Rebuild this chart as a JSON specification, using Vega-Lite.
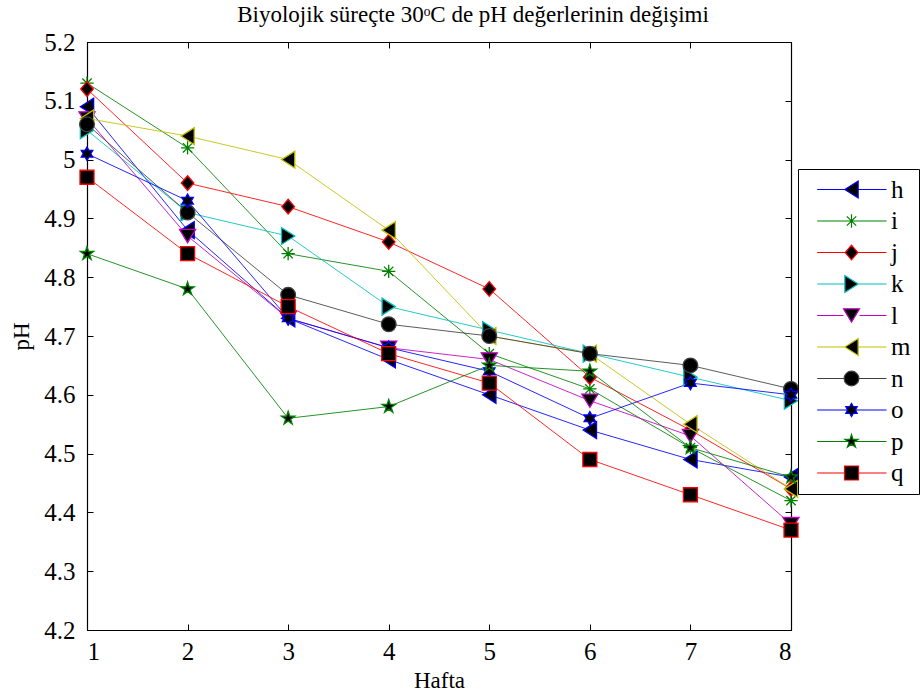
{
  "$schema": "https://vega.github.io/schema/vega-lite/v6.json",
  "width": 704,
  "height": 588,
  "autosize": "none",
  "padding": {"left": 87, "top": 42, "right": 129, "bottom": 70},
  "background": "white",
  "title": {"text": "Biyolojik süreçte 30ᵒC de pH değerlerinin değişimi", "font": "Liberation Serif, Times New Roman, serif", "fontSize": 23, "fontWeight": "normal", "color": "black", "offset": 3, "dx": 34},
  "config": {
    "font": "Liberation Serif, Times New Roman, serif",
    "view": {"stroke": "black", "strokeWidth": 1},
    "axis": {"grid": false, "domainColor": "black", "domainWidth": 1.2, "tickColor": "black", "tickSize": -6, "labelFont": "Liberation Serif, Times New Roman, serif", "labelFontSize": 25, "labelColor": "black", "titleFont": "Liberation Serif, Times New Roman, serif", "titleFontSize": 23, "titleFontWeight": "normal", "titleColor": "black"},
    "legend": {"labelFont": "Liberation Serif, Times New Roman, serif", "labelFontSize": 25, "labelColor": "black"}
  },
  "data": {"values": [
    {"s":"h","x":1,"y":5.09},{"s":"h","x":2,"y":4.88},{"s":"h","x":3,"y":4.73},{"s":"h","x":4,"y":4.66},{"s":"h","x":5,"y":4.60},{"s":"h","x":6,"y":4.54},{"s":"h","x":7,"y":4.49},{"s":"h","x":8,"y":4.46},
    {"s":"i","x":1,"y":5.13},{"s":"i","x":2,"y":5.02},{"s":"i","x":3,"y":4.84},{"s":"i","x":4,"y":4.81},{"s":"i","x":5,"y":4.67},{"s":"i","x":6,"y":4.61},{"s":"i","x":7,"y":4.51},{"s":"i","x":8,"y":4.42},
    {"s":"j","x":1,"y":5.12},{"s":"j","x":2,"y":4.96},{"s":"j","x":3,"y":4.92},{"s":"j","x":4,"y":4.86},{"s":"j","x":5,"y":4.78},{"s":"j","x":6,"y":4.63},{"s":"j","x":7,"y":4.54},{"s":"j","x":8,"y":4.44},
    {"s":"k","x":1,"y":5.05},{"s":"k","x":2,"y":4.91},{"s":"k","x":3,"y":4.87},{"s":"k","x":4,"y":4.75},{"s":"k","x":5,"y":4.71},{"s":"k","x":6,"y":4.67},{"s":"k","x":7,"y":4.63},{"s":"k","x":8,"y":4.59},
    {"s":"l","x":1,"y":5.07},{"s":"l","x":2,"y":4.87},{"s":"l","x":3,"y":4.73},{"s":"l","x":4,"y":4.68},{"s":"l","x":5,"y":4.66},{"s":"l","x":6,"y":4.59},{"s":"l","x":7,"y":4.53},{"s":"l","x":8,"y":4.38},
    {"s":"m","x":1,"y":5.07},{"s":"m","x":2,"y":5.04},{"s":"m","x":3,"y":5.00},{"s":"m","x":4,"y":4.88},{"s":"m","x":5,"y":4.70},{"s":"m","x":6,"y":4.67},{"s":"m","x":7,"y":4.55},{"s":"m","x":8,"y":4.44},
    {"s":"n","x":1,"y":5.06},{"s":"n","x":2,"y":4.91},{"s":"n","x":3,"y":4.77},{"s":"n","x":4,"y":4.72},{"s":"n","x":5,"y":4.70},{"s":"n","x":6,"y":4.67},{"s":"n","x":7,"y":4.65},{"s":"n","x":8,"y":4.61},
    {"s":"o","x":1,"y":5.01},{"s":"o","x":2,"y":4.93},{"s":"o","x":3,"y":4.73},{"s":"o","x":4,"y":4.68},{"s":"o","x":5,"y":4.64},{"s":"o","x":6,"y":4.56},{"s":"o","x":7,"y":4.62},{"s":"o","x":8,"y":4.60},
    {"s":"p","x":1,"y":4.84},{"s":"p","x":2,"y":4.78},{"s":"p","x":3,"y":4.56},{"s":"p","x":4,"y":4.58},{"s":"p","x":5,"y":4.65},{"s":"p","x":6,"y":4.64},{"s":"p","x":7,"y":4.51},{"s":"p","x":8,"y":4.46},
    {"s":"q","x":1,"y":4.97},{"s":"q","x":2,"y":4.84},{"s":"q","x":3,"y":4.75},{"s":"q","x":4,"y":4.67},{"s":"q","x":5,"y":4.62},{"s":"q","x":6,"y":4.49},{"s":"q","x":7,"y":4.43},{"s":"q","x":8,"y":4.37}
  ]},
  "resolve": {"scale": {"shape": "independent", "stroke": "independent"}, "axis": {"x": "independent", "y": "independent"}},
  "layer": [
    {
      "mark": {"type": "line", "strokeWidth": 1, "opacity": 0.85},
      "encoding": {
        "x": {"field": "x", "type": "quantitative", "scale": {"domain": [1, 8], "nice": false, "zero": false}, "axis": null},
        "y": {"field": "y", "type": "quantitative", "scale": {"domain": [4.2, 5.2], "nice": false, "zero": false}, "axis": null},
        "stroke": {"field": "s", "type": "nominal", "legend": null, "scale": {"domain": ["h","i","j","k","l","m","n","o","p","q"], "range": ["#0000ff","#008000","#ff0000","#00bfbf","#bf00bf","#bfbf00","#404040","#0000ff","#008000","#ff0000"]}},
        "order": {"field": "x"}
      }
    },
    {
      "mark": {"type": "point", "filled": true, "fill": "black", "size": 196, "strokeWidth": 1.3, "opacity": 1},
      "encoding": {
        "x": {"field": "x", "type": "quantitative", "axis": {"values": [1,2,3,4,5,6,7,8], "format": "d", "title": "Hafta", "labelPadding": 15, "titlePadding": 5, "labelFontSize": 25}},
        "y": {"field": "y", "type": "quantitative", "axis": {"values": [4.2,4.3,4.4,4.5,4.6,4.7,4.8,4.9,5.0,5.1,5.2], "format": "~g", "title": "pH", "labelPadding": 18, "titlePadding": 10, "labelFontSize": 25}},
        "shape": {"field": "s", "type": "nominal", "legend": null, "scale": {"domain": ["h","i","j","k","l","m","n","o","p","q"], "range": [
          "M-0.95,0L0.95,-1.2L0.95,1.2Z",
          "M-0.95,0H0.95M0,-0.95V0.95M-0.67,-0.67L0.67,0.67M-0.67,0.67L0.67,-0.67",
          "M0,-1.05L0.9,0L0,1.05L-0.9,0Z",
          "M0.95,0L-0.95,-1.2L-0.95,1.2Z",
          "M-1.15,-0.95L1.15,-0.95L0,0.95Z",
          "M-0.95,0L0.95,-1.2L0.95,1.2Z",
          "M1.05,0A1.05,1.05,0,1,1,-1.05,0A1.05,1.05,0,1,1,1.05,0Z",
          "M0,-0.95L0.274,-0.475L0.823,-0.475L0.548,0L0.823,0.475L0.274,0.475L0,0.95L-0.274,0.475L-0.823,0.475L-0.548,0L-0.823,-0.475L-0.274,-0.475Z",
          "M0,-1L0.225,-0.309L0.951,-0.309L0.363,0.118L0.588,0.809L0,0.382L-0.588,0.809L-0.363,0.118L-0.951,-0.309L-0.225,-0.309Z",
          "M-1,-1H1V1H-1Z"
        ]}},
        "stroke": {"field": "s", "type": "nominal", "legend": null, "scale": {"domain": ["h","i","j","k","l","m","n","o","p","q"], "range": ["#0000ff","#008000","#ff0000","#00bfbf","#bf00bf","#bfbf00","#404040","#0000ff","#008000","#ff0000"]}}
      }
    },
    {
      "transform": [{"filter": "datum.x > 100"}],
      "mark": {"type": "point", "filled": true, "fill": "black", "size": 196, "strokeWidth": 1.2, "opacity": 1},
      "encoding": {
        "x": {"field": "x", "type": "quantitative", "axis": {"orient": "top", "values": [1,2,3,4,5,6,7,8], "labels": false, "title": null, "domain": true}},
        "y": {"field": "y", "type": "quantitative", "axis": {"orient": "right", "values": [4.2,4.3,4.4,4.5,4.6,4.7,4.8,4.9,5.0,5.1,5.2], "labels": false, "title": null, "domain": true}},
        "shape": {"field": "s", "type": "nominal", "scale": {"domain": ["h","i","j","k","l","m","n","o","p","q"], "range": [
          "M-4.9,0H-0.95M0.95,0H5M-0.95,0L0.95,-1.2L0.95,1.2Z",
          "M-4.9,0H5M0,-0.95V0.95M-0.67,-0.67L0.67,0.67M-0.67,0.67L0.67,-0.67",
          "M-4.9,0H-0.9M0.9,0H5M0,-1.05L0.9,0L0,1.05L-0.9,0Z",
          "M-4.9,0H-0.95M0.95,0H5M0.95,0L-0.95,-1.2L-0.95,1.2Z",
          "M-4.9,0H-1.15M1.15,0H5M-1.15,-0.95L1.15,-0.95L0,0.95Z",
          "M-4.9,0H-0.95M0.95,0H5M-0.95,0L0.95,-1.2L0.95,1.2Z",
          "M-4.9,0H-1.05M1.05,0H5M1.05,0A1.05,1.05,0,1,1,-1.05,0A1.05,1.05,0,1,1,1.05,0Z",
          "M-4.9,0H-0.55M0.55,0H5M0,-0.95L0.274,-0.475L0.823,-0.475L0.548,0L0.823,0.475L0.274,0.475L0,0.95L-0.274,0.475L-0.823,0.475L-0.548,0L-0.823,-0.475L-0.274,-0.475Z",
          "M-4.9,0H-0.6M0.6,0H5M0,-1L0.225,-0.309L0.951,-0.309L0.363,0.118L0.588,0.809L0,0.382L-0.588,0.809L-0.363,0.118L-0.951,-0.309L-0.225,-0.309Z",
          "M-4.9,0H-1M1,0H5M-1,-1H1V1H-1Z"
        ]}, "legend": {"orient": "none", "legendX": 711, "legendY": 127, "title": null, "strokeColor": "black", "fillColor": "white", "padding": 8, "rowPadding": 5.5, "symbolOffset": 33, "labelOffset": 27, "symbolSize": 196, "symbolStrokeWidth": 1.2, "symbolFillColor": "black"}},
        "stroke": {"field": "s", "type": "nominal", "scale": {"domain": ["h","i","j","k","l","m","n","o","p","q"], "range": ["#0000ff","#008000","#ff0000","#00bfbf","#bf00bf","#bfbf00","#404040","#0000ff","#008000","#ff0000"]}, "legend": {"orient": "none", "legendX": 711, "legendY": 127, "title": null, "strokeColor": "black", "fillColor": "white", "padding": 8, "rowPadding": 5.5, "symbolOffset": 33, "labelOffset": 27, "symbolSize": 196, "symbolStrokeWidth": 1.2, "symbolFillColor": "black"}}
      }
    }
  ]
}
